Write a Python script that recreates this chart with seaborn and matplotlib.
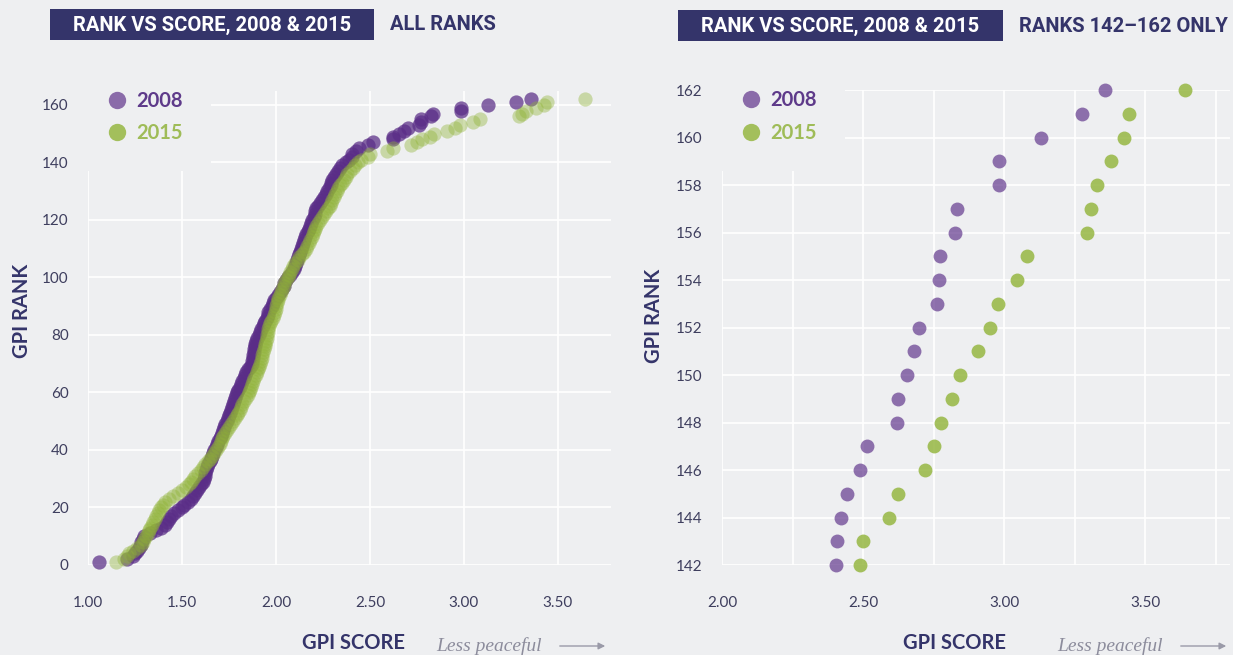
import matplotlib
matplotlib.use("Agg")
import matplotlib.pyplot as plt
from matplotlib.patches import Rectangle, FancyArrowPatch
from matplotlib.lines import Line2D
import seaborn as sns
import pandas as pd

# GPI ranks 1-162 and the matching scores in each edition
ranks = list(range(1, 163))

scores_2008 = [
    1.06, 1.21, 1.24, 1.25, 1.26, 1.27, 1.28, 1.28, 1.29, 1.30,
    1.33, 1.36, 1.39, 1.41, 1.42, 1.43, 1.44, 1.46, 1.48, 1.50,
    1.51, 1.53, 1.55, 1.56, 1.57, 1.58, 1.59, 1.60, 1.61, 1.615,
    1.62, 1.625, 1.63, 1.635, 1.64, 1.65, 1.655, 1.66, 1.665, 1.67,
    1.68, 1.685, 1.69, 1.70, 1.71, 1.715, 1.72, 1.725, 1.73, 1.74,
    1.745, 1.75, 1.755, 1.76, 1.765, 1.77, 1.775, 1.78, 1.785, 1.79,
    1.80, 1.81, 1.815, 1.82, 1.83, 1.835, 1.84, 1.85, 1.86, 1.87,
    1.875, 1.88, 1.88, 1.885, 1.885, 1.89, 1.89, 1.895, 1.90, 1.91,
    1.915, 1.92, 1.93, 1.935, 1.94, 1.95, 1.955, 1.96, 1.97, 1.98,
    1.985, 1.99, 2.00, 2.01, 2.02, 2.03, 2.04, 2.045, 2.055, 2.065,
    2.075, 2.085, 2.095, 2.10, 2.105, 2.11, 2.115, 2.12, 2.13, 2.135,
    2.14, 2.145, 2.15, 2.155, 2.16, 2.17, 2.175, 2.18, 2.185, 2.19,
    2.20, 2.205, 2.21, 2.215, 2.225, 2.235, 2.245, 2.255, 2.265, 2.27,
    2.28, 2.29, 2.295, 2.30, 2.31, 2.32, 2.33, 2.34, 2.35, 2.37,
    2.39, 2.405, 2.407, 2.423, 2.442, 2.489, 2.515, 2.620, 2.624, 2.656,
    2.682, 2.700, 2.763, 2.770, 2.773, 2.825, 2.835, 2.982, 2.982, 3.130,
    3.276, 3.358,
]

scores_2015 = [
    1.148, 1.19, 1.21, 1.22, 1.24, 1.26, 1.28, 1.29, 1.30, 1.31,
    1.32, 1.325, 1.33, 1.34, 1.345, 1.355, 1.36, 1.37, 1.38, 1.39,
    1.40, 1.41, 1.43, 1.45, 1.48, 1.50, 1.52, 1.535, 1.55, 1.56,
    1.57, 1.585, 1.60, 1.61, 1.625, 1.64, 1.65, 1.66, 1.67, 1.68,
    1.69, 1.70, 1.705, 1.715, 1.72, 1.73, 1.74, 1.75, 1.76, 1.77,
    1.78, 1.79, 1.80, 1.81, 1.815, 1.82, 1.83, 1.84, 1.85, 1.855,
    1.86, 1.865, 1.87, 1.88, 1.885, 1.895, 1.90, 1.905, 1.91, 1.915,
    1.92, 1.925, 1.925, 1.93, 1.935, 1.94, 1.94, 1.945, 1.95, 1.95,
    1.955, 1.96, 1.965, 1.97, 1.975, 1.985, 1.99, 1.995, 2.00, 2.00,
    2.005, 2.01, 2.01, 2.02, 2.025, 2.03, 2.04, 2.045, 2.055, 2.065,
    2.07, 2.075, 2.085, 2.09, 2.10, 2.115, 2.125, 2.14, 2.15, 2.16,
    2.165, 2.175, 2.18, 2.19, 2.195, 2.20, 2.21, 2.215, 2.225, 2.235,
    2.245, 2.255, 2.265, 2.275, 2.285, 2.29, 2.30, 2.31, 2.315, 2.325,
    2.33, 2.34, 2.35, 2.36, 2.37, 2.38, 2.395, 2.41, 2.42, 2.435,
    2.45, 2.490, 2.501, 2.591, 2.623, 2.719, 2.750, 2.778, 2.817, 2.843,
    2.909, 2.952, 2.977, 3.047, 3.083, 3.293, 3.307, 3.331, 3.381, 3.425,
    3.442, 3.643,
]

years = ["2008", "2015"]
left_yticks = [0, 20, 40, 60, 80, 100, 120, 140, 160]
left_xticks = [1.0, 1.5, 2.0, 2.5, 3.0, 3.5]
right_yticks = list(range(142, 163, 2))
right_xticks = [2.0, 2.5, 3.0, 3.5]
right_minor_xticks = [2.25, 2.75, 3.25, 3.75]
zoom_first_rank = 142

BG = "#EEEFF1"
NAVY = "#34346A"
TICK = "#3E3E5E"
PURPLE = "#5A2D87"
GREEN = "#90B337"
PURPLE_KEY = "#8A6BA9"
GREEN_KEY = "#A3BF5C"
PURPLE_TXT = "#5E3A8A"
GREEN_TXT = "#9FBC58"

sns.set_theme(style="whitegrid")
plt.rcParams.update({
    "figure.facecolor": BG,
    "axes.facecolor": BG,
    "savefig.facecolor": BG,
    "grid.color": "white",
    "grid.linewidth": 1.2,
    "axes.edgecolor": BG,
})
plt.rcParams["font.family"] = ["Lato", "DejaVu Sans"]

df = pd.DataFrame({
    "rank": ranks + ranks,
    "score": scores_2008 + scores_2015,
    "year": [years[0]] * len(ranks) + [years[1]] * len(ranks),
})
df_zoom = df[df["rank"] >= zoom_first_rank]

W, H = 1233, 655
fig = plt.figure(figsize=(W / 100, H / 100), dpi=100)


def fx(px):
    return px / W


def fy(py):
    return 1 - py / H


ax_l = fig.add_axes([fx(88), fy(565), (610.6 - 88) / W, (565 - 90.6) / H])
ax_r = fig.add_axes([fx(722), fy(565), (1229.6 - 722) / W, (565 - 90) / H])

# Full ranking
for yr, col, a in [("2008", PURPLE, 0.72), ("2015", GREEN, 0.40)]:
    sns.scatterplot(data=df[df["year"] == yr], x="score", y="rank", ax=ax_l,
                    color=col, alpha=a, s=105, linewidth=0, clip_on=False,
                    legend=False, zorder=3)
ax_l.set_xlim(1.0, 3.78)
ax_l.set_ylim(0, 165)
ax_l.set_xticks(left_xticks)
ax_l.set_xticklabels([f"{v:.2f}" for v in left_xticks])
ax_l.set_yticks(left_yticks)

# Ranks 142-162 only
for yr, col, a in [("2008", PURPLE, 0.66), ("2015", GREEN, 0.80)]:
    sns.scatterplot(data=df_zoom[df_zoom["year"] == yr], x="score", y="rank", ax=ax_r,
                    color=col, alpha=a, s=100, linewidth=0, clip_on=False,
                    legend=False, zorder=3)
ax_r.set_xlim(2.0, 3.8)
ax_r.set_ylim(142, 162)
ax_r.set_xticks(right_xticks)
ax_r.set_xticklabels([f"{v:.2f}" for v in right_xticks])
ax_r.set_xticks(right_minor_xticks, minor=True)
ax_r.set_yticks(right_yticks)
ax_r.grid(True, which="minor", axis="x", color="white", linewidth=1.2)

for ax in (ax_l, ax_r):
    ax.set_xlabel("")
    ax.set_ylabel("")
    for sp in ax.spines.values():
        sp.set_visible(False)
    ax.tick_params(axis="both", which="both", length=0, labelsize=11, labelcolor=TICK)
    ax.tick_params(axis="x", pad=22)
    ax.tick_params(axis="y", pad=14)
    ax.set_axisbelow(True)
    handles = [
        Line2D([], [], marker="o", linestyle="none", markersize=12.5,
               markerfacecolor=PURPLE_KEY, markeredgewidth=0),
        Line2D([], [], marker="o", linestyle="none", markersize=12.5,
               markerfacecolor=GREEN_KEY, markeredgewidth=0),
    ]
    bb = ax.get_position()
    ax_w_px, ax_h_px = bb.width * W, bb.height * H
    leg = ax.legend(handles, years, loc="upper left",
                    bbox_to_anchor=(-9 / ax_w_px, 1 + 28 / ax_h_px),
                    frameon=True, facecolor=BG, edgecolor=BG, framealpha=1,
                    fontsize=14.5, handlelength=1.0, handletextpad=0.45,
                    labelspacing=0.62, borderpad=1.4, borderaxespad=0)
    leg.get_frame().set_linewidth(0)
    leg.set_zorder(5)
    for t, c in zip(leg.get_texts(), [PURPLE_TXT, GREEN_TXT]):
        t.set_color(c)
        t.set_fontweight("bold")

# Title bands
title_font = ["Roboto", "DejaVu Sans"]
for x0, x1, y0, y1 in [(50, 374, 9, 40), (678, 1003, 10, 41)]:
    fig.add_artist(Rectangle((fx(x0), fy(y1)), (x1 - x0) / W, (y1 - y0) / H,
                             transform=fig.transFigure, facecolor=NAVY,
                             edgecolor="none"))
    fig.text(fx((x0 + x1) / 2), fy((y0 + y1) / 2 + 0.5), "RANK VS SCORE, 2008 & 2015",
             color="white", fontsize=14.5, fontweight="bold", family=title_font,
             ha="center", va="center")
fig.text(fx(390), fy(25), "ALL RANKS", color=NAVY, fontsize=14.5,
         fontweight="bold", family=title_font, ha="left", va="center")
fig.text(fx(1019), fy(26), "RANKS 142\u2013162 ONLY", color=NAVY, fontsize=14.5,
         fontweight="bold", family=title_font, ha="left", va="center")

# Axis titles
for xc, yc in [(22, 311), (654, 316)]:
    fig.text(fx(xc), fy(yc), "GPI RANK", color=NAVY, fontsize=14.5,
             fontweight="bold", rotation=90, ha="center", va="center")
for xc, lp, a0, a1 in [(354, 436, 557, 608), (954, 1057, 1178, 1229)]:
    fig.text(fx(xc), fy(643), "GPI SCORE", color=NAVY, fontsize=14.5,
             fontweight="bold", ha="center", va="center")
    fig.text(fx(lp), fy(646), "Less peaceful", color="#8C8C9C", fontsize=14,
             style="italic", family=["Liberation Serif", "DejaVu Serif"],
             ha="left", va="center")
    fig.add_artist(FancyArrowPatch((fx(a0), fy(646)), (fx(a1), fy(646)),
                                   transform=fig.transFigure,
                                   arrowstyle="-|>,head_length=4,head_width=2",
                                   color="#9A9AA8", linewidth=1.0))

fig.savefig("out.png", dpi=100, facecolor=BG)
